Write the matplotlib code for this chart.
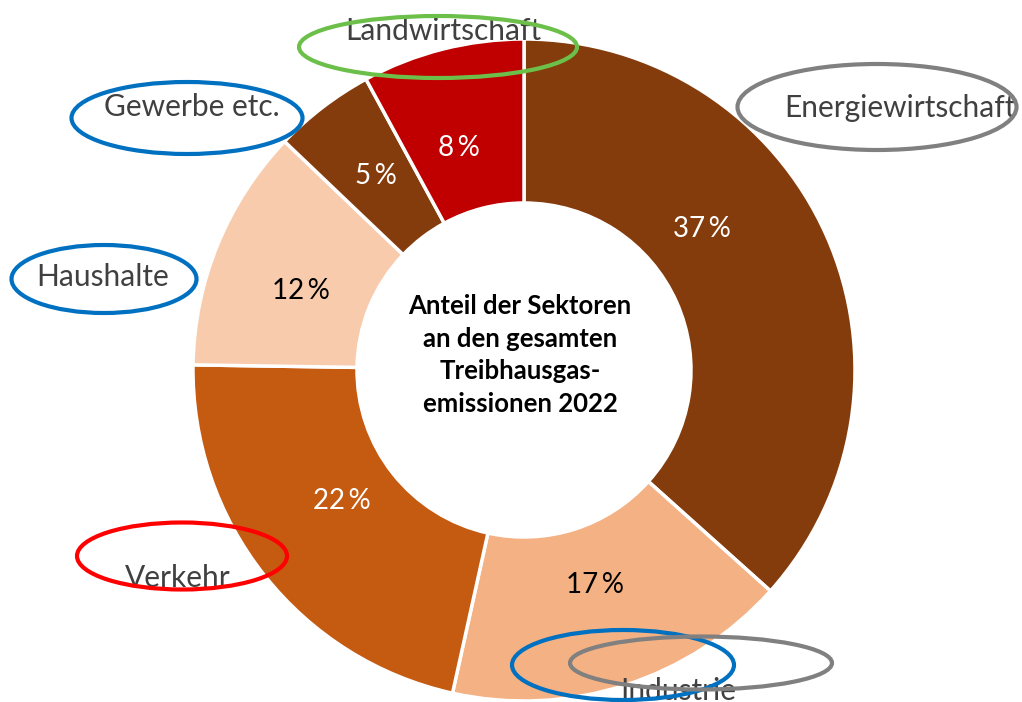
import matplotlib.pyplot as plt
from matplotlib.patches import Ellipse

plt.rcParams['font.family'] = ['Lato', 'DejaVu Sans']

sectors = ['Energiewirtschaft', 'Industrie', 'Verkehr', 'Haushalte', 'Gewerbe etc.', 'Landwirtschaft']
shares = [37, 17, 22, 12, 5, 8]
colors = ['#843C0C', '#F4B183', '#C55A11', '#F8CBAD', '#843C0C', '#C00000']
pct_colors = ['white', 'black', 'white', 'black', 'white', 'white']

# label positions (pixels from top-left) and ring colours drawn around them
label_pos = [(900, 108), (678, 691), (178, 578), (103, 277), (192, 107), (443, 31)]
pct_pos = [(702, 229), (595, 585), (342, 501), (301, 291), (376, 176), (459, 148)]
rings = [
    ((877, 107), 279, 86, '#808080'),
    ((623, 665), 222, 70, '#0070C0'),
    ((701, 663), 262, 53, '#808080'),
    ((182, 556), 210, 67, '#FF0000'),
    ((104, 279), 185, 68, '#0070C0'),
    ((187, 118), 231, 72, '#0070C0'),
    ((438, 47), 278, 62, '#6CC04A'),
]

W, H = 1022, 702
fig = plt.figure(figsize=(W / 100, H / 100), dpi=100)
ax = fig.add_axes([0, 0, 1, 1])

cx, cy, R = 524, H - 370, 331
wedges, _, autotexts = ax.pie(
    shares, colors=colors, startangle=90, counterclock=False,
    radius=R, center=(cx, cy),
    autopct=lambda p: '%d\u2009%%' % round(p * sum(shares) / 100),
    wedgeprops=dict(width=164, edgecolor='white', linewidth=2.5),
)
ax.set_xlim(0, W)
ax.set_ylim(0, H)
ax.set_aspect('equal')
ax.axis('off')
for t, c, (x, y) in zip(autotexts, pct_colors, pct_pos):
    t.set_color(c)
    t.set_fontsize(20)
    t.set_position((x, H - y))

ax.text(520, H - 355, 'Anteil der Sektoren\nan den gesamten\nTreibhausgas-\nemissionen 2022',
        ha='center', va='center', fontsize=18.5, fontweight='bold', color='black',
        linespacing=1.42)

for name, (x, y) in zip(sectors, label_pos):
    ax.text(x, H - y, name, ha='center', va='center', fontsize=21.5, color='#404040')

for (x, y), w, h, c in rings:
    ax.add_patch(Ellipse((x, H - y), w, h, fill=False, edgecolor=c, linewidth=3, zorder=5))

fig.savefig('out.png', dpi=100)
